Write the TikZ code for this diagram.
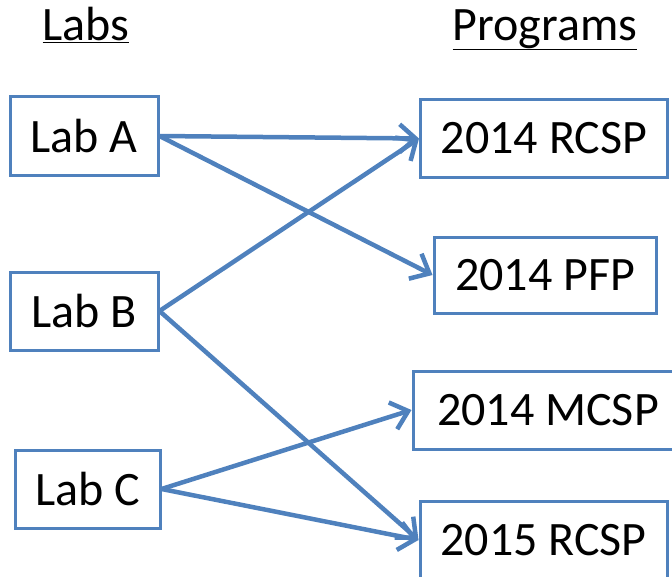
\documentclass[tikz,border=0pt]{standalone}
\usepackage{fontspec}
\setmainfont{Carlito}
\usetikzlibrary{arrows.meta}
\definecolor{boxblue}{HTML}{4F81BD}
\begin{document}
\begin{tikzpicture}[x=1pt,y=-1pt,
  every node/.style={font=\fontsize{48}{57}\selectfont},
  bx/.style={draw=boxblue,line width=3pt,inner sep=0pt,anchor=center},
  arr/.style={draw=boxblue,line width=4.5pt,-{Straight Barb[length=16pt,width=28pt,line width=4.5pt]}},
  hdr/.style={inner sep=0pt,anchor=base}]
\useasboundingbox (0,0) rectangle (672,576);
\node[hdr] (labs) at (86,40) {\underline{Labs}};
\node[hdr] (progs) at (545,40) {\underline{Programs}};
\node[bx,minimum width=148,minimum height=79] (la) at (84,136) {Lab A};
\node[bx,minimum width=148,minimum height=78] (lb) at (84,311) {Lab B};
\node[bx,minimum width=145,minimum height=78] (lc) at (87.5,489) {Lab C};
\node[bx,minimum width=247,minimum height=78] (r14) at (544,138.5) {2014 RCSP};
\node[bx,minimum width=222,minimum height=76] (pfp) at (545,275) {2014 PFP};
\node[bx,minimum width=270,minimum height=78] (mcsp) at (548,410) {2014 MCSP};
\node[bx,minimum width=247,minimum height=78] (r15) at (543.5,540) {2015 RCSP};
\draw[arr] (la.east) -- (r14.west);
\draw[arr] (la.east) -- (pfp.west);
\draw[arr] (lb.east) -- (r14.west);
\draw[arr] (lb.east) -- (r15.west);
\draw[arr] (lc.east) -- (mcsp.west);
\draw[arr] (lc.east) -- (r15.west);
\end{tikzpicture}
\end{document}
